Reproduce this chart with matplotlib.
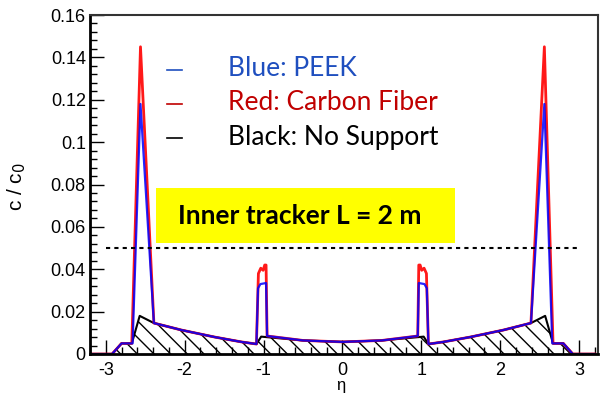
import numpy as np
import matplotlib.pyplot as plt

plt.rcParams['axes.unicode_minus'] = False

# eta points and c/c0 values
eta_ns = [-3.2, -2.92, -2.80, -2.67, -2.57, -2.39, -2.04, -1.62, -1.28, -1.09, -1.03,
          -0.5, 0.0, 0.5, 1.03, 1.09, 1.28, 1.62, 2.04, 2.39, 2.57, 2.67, 2.80, 2.92, 3.2]
c_ns = [0, 0, 0.005, 0.005, 0.018, 0.0146, 0.0113, 0.008, 0.0057, 0.0047, 0.0082,
        0.0064, 0.0057, 0.0064, 0.0082, 0.0047, 0.0057, 0.008, 0.0113, 0.0146, 0.018,
        0.005, 0.005, 0, 0]

eta_cf = [-3.2, -2.92, -2.80, -2.67, -2.56, -2.39, -2.04, -1.62, -1.28, -1.09, -1.065,
          -1.035, -1.005, -0.985, -0.968, -0.955, -0.5, 0.0, 0.5, 0.955, 0.968, 0.985,
          1.005, 1.035, 1.065, 1.09, 1.28, 1.62, 2.04, 2.39, 2.56, 2.67, 2.80, 2.92, 3.2]
c_cf = [0, 0, 0.005, 0.005, 0.145, 0.0146, 0.0113, 0.008, 0.0057, 0.0047, 0.038,
        0.0405, 0.0395, 0.042, 0.042, 0.0085, 0.0064, 0.0057, 0.0064, 0.0085, 0.042, 0.042,
        0.0395, 0.0405, 0.038, 0.0047, 0.0057, 0.008, 0.0113, 0.0146, 0.145, 0.005, 0.005, 0, 0]

eta_peek = [-3.2, -2.92, -2.80, -2.66, -2.56, -2.39, -2.04, -1.62, -1.28, -1.09, -1.07,
            -1.04, -0.968, -0.955, -0.5, 0.0, 0.5, 0.955, 0.968, 1.04, 1.07, 1.09,
            1.28, 1.62, 2.04, 2.39, 2.56, 2.66, 2.80, 2.92, 3.2]
c_peek = [0, 0, 0.005, 0.005, 0.118, 0.0146, 0.0113, 0.008, 0.0057, 0.0047, 0.031,
          0.033, 0.0335, 0.0085, 0.0064, 0.0057, 0.0064, 0.0085, 0.0335, 0.033, 0.031, 0.0047,
          0.0057, 0.008, 0.0113, 0.0146, 0.118, 0.005, 0.005, 0, 0]

legend_labels = ['Blue: PEEK', 'Red: Carbon Fiber', 'Black: No Support']
legend_colors = ['#1f4fbf', '#c00000', 'black']

W, H = 601, 394


def fx(px):
    return px / W


def fy(py):
    return 1 - py / H


fig = plt.figure(figsize=(6.01, 3.94), dpi=100)
ax = fig.add_axes([fx(90), fy(354), fx(598) - fx(90), fy(15) - fy(354)])

ax.fill_between(eta_ns, 0, c_ns, facecolor='none', edgecolor='black', hatch='\\\\', linewidth=0)
ax.plot(eta_ns, c_ns, color='black', lw=1.5)
ax.plot(eta_cf, c_cf, color='#ff0000', lw=2, alpha=0.9)
ax.plot(eta_peek, c_peek, color='#0000ff', lw=1.6, alpha=0.85)
ax.hlines(0.05, -3, 3, colors='black', linestyles=(0, (2, 2)), lw=1.5)

ax.set_xlim(-3.18, 3.24)
ax.set_ylim(0, 0.16)
ax.set_xticks(np.arange(-3, 4, 1))
ax.set_xticks(np.arange(-3.2, 3.21, 0.2), minor=True)
ax.set_yticks(np.arange(0, 0.161, 0.02))
ax.set_yticks(np.arange(0, 0.161, 0.004), minor=True)
ax.set_yticklabels(['0', '0.02', '0.04', '0.06', '0.08', '0.1', '0.12', '0.14', '0.16'])
ax.tick_params(which='both', direction='in', labelsize=13, top=False, right=False)
ax.tick_params(which='major', length=10, width=1)
ax.tick_params(which='minor', length=5, width=1)
ax.tick_params(axis='x', which='major', pad=6)
ax.tick_params(axis='y', which='major', pad=3)
for lab in ax.get_xticklabels() + ax.get_yticklabels():
    lab.set_family('Liberation Sans')
ax.spines['left'].set_linewidth(2)
ax.spines['bottom'].set_linewidth(2)
ax.spines['top'].set_linewidth(1.5)
ax.spines['right'].set_linewidth(1.5)
ax.spines['top'].set_color('#333333')
ax.spines['right'].set_color('#333333')

fig.text(fx(17), fy(187), 'c / c$_{0}$', rotation=90, ha='center', va='center',
         fontsize=15, family='Liberation Sans')
fig.text(fx(341), fy(393), 'η', ha='center', va='bottom', fontsize=12, family='Liberation Sans')

# legend drawn as in the slide
rows = [69, 103, 137]
for lab, col, py in zip(legend_labels, legend_colors, rows):
    fig.add_artist(plt.Line2D([fx(167), fx(182)], [fy(py + 1), fy(py + 1)], color=col, lw=1.2))
    fig.text(fx(228), fy(py), lab, color=col, ha='left', va='center', fontsize=19, family='Lato')

# yellow box
fig.add_artist(plt.Rectangle((fx(156), fy(243)), fx(455) - fx(156), fy(188) - fy(243),
                             facecolor='#ffff00', edgecolor='none', transform=fig.transFigure))
fig.text(fx(300), fy(216), 'Inner tracker L = 2 m', ha='center', va='center', fontsize=19,
         fontweight='bold', family='Lato')

fig.savefig('out.png', dpi=100)
